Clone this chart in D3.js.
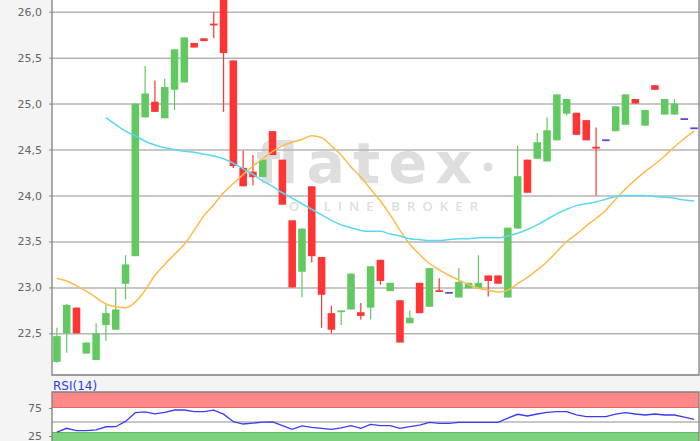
<!DOCTYPE html>
<html lang="de">
<head>
<meta charset="utf-8">
<title>Kursverlauf mit RSI</title>
<style>
    body {
        margin: 0;
        background: #f4f4f4;
    }

    #chart {
        width: 700px;
        height: 441px;
        overflow: hidden;
    }

    .axis text {
        font-family: "DejaVu Sans", Verdana, sans-serif;
        font-size: 11px;
        fill: #666;
    }

    .axis line {
        stroke: #888;
    }

    .axis path {
        display: none;
    }

    .grid line {
        stroke: #b4b4b4;
        stroke-width: 1.5px;
    }

    .grid path {
        display: none;
    }
</style>
</head>
<body>
<div id="chart"></div>
<script src="https://cdn.jsdelivr.net/npm/d3@7/dist/d3.min.js"></script>
<script>
    // price data, one entry per trading day
    const openPx = [22.19, 22.50, 22.78, 22.28, 22.21, 22.59, 22.54, 23.04, 23.34, 24.85,
        25.02, 24.84, 25.15, 25.23, 25.66, 25.71, 25.87, 26.30, 25.47, 24.30,
        24.26, 24.20, 24.70, 24.39, 23.73, 23.17, 24.10, 23.33, 22.72, 22.74,
        22.76, 22.73, 22.78, 23.30, 22.96, 22.86, 22.61, 23.05, 22.79, 22.97,
        22.94, 22.89, 22.99, 22.99, 23.13, 23.13, 22.89, 23.64, 24.39, 24.40,
        24.37, 24.60, 24.89, 24.90, 24.82, 24.53, 24.60, 24.70, 24.77, 25.05,
        24.76, 25.20, 24.88, 24.88, 24.83, 24.73];
    const highPx = [22.56, 22.82, 22.78, 22.40, 22.61, 22.81, 22.99, 23.35, 25.00, 25.41,
        25.25, 25.27, 25.59, 25.72, 25.66, 25.71, 26.00, 26.35, 25.47, 24.49,
        24.44, 24.39, 24.70, 24.39, 23.73, 23.64, 24.10, 23.33, 22.80, 22.75,
        23.15, 22.83, 23.23, 23.30, 23.05, 22.86, 22.75, 23.05, 23.21, 23.10,
        22.94, 23.21, 23.05, 23.35, 23.13, 23.13, 23.65, 24.54, 24.39, 24.68,
        24.85, 25.10, 25.05, 24.90, 24.82, 24.74, 24.60, 24.97, 25.10, 25.05,
        24.93, 25.20, 25.05, 25.05, 24.83, 24.73];
    const lowPx = [22.18, 22.29, 22.50, 22.28, 22.21, 22.42, 22.54, 22.87, 23.34, 24.85,
        24.91, 24.84, 24.93, 25.23, 25.61, 25.68, 25.71, 24.91, 24.30, 24.10,
        24.11, 24.20, 24.44, 23.90, 23.00, 22.89, 23.27, 22.56, 22.50, 22.59,
        22.76, 22.65, 22.65, 23.03, 22.96, 22.40, 22.61, 22.72, 22.79, 22.95,
        22.94, 22.89, 22.99, 22.99, 22.90, 23.04, 22.89, 23.64, 24.03, 24.40,
        24.37, 24.60, 24.87, 24.66, 24.60, 24.00, 24.60, 24.70, 24.77, 25.00,
        24.76, 25.15, 24.88, 24.88, 24.83, 24.73];
    const closePx = [22.47, 22.81, 22.50, 22.40, 22.50, 22.72, 22.76, 23.25, 25.00, 25.11,
        24.91, 25.18, 25.59, 25.72, 25.61, 25.68, 25.86, 25.55, 24.32, 24.10,
        24.20, 24.39, 24.44, 23.90, 23.00, 23.64, 23.34, 22.92, 22.54, 22.75,
        23.15, 22.69, 23.23, 23.07, 23.05, 22.40, 22.67, 22.72, 23.21, 22.95,
        22.94, 23.06, 23.05, 23.05, 23.07, 23.04, 23.65, 24.21, 24.03, 24.58,
        24.71, 25.10, 25.05, 24.66, 24.60, 24.51, 24.60, 24.97, 25.10, 25.00,
        24.93, 25.15, 25.05, 25.00, 24.83, 24.73];

    // moving averages (orange = short, cyan = long)
    const maShort = [23.10, 23.07, 23.02, 22.96, 22.89, 22.82, 22.79, 22.78, 22.84, 22.97,
        23.13, 23.25, 23.36, 23.47, 23.62, 23.78, 23.90, 24.03, 24.13, 24.23,
        24.32, 24.40, 24.48, 24.54, 24.58, 24.61, 24.65, 24.63, 24.54, 24.44,
        24.31, 24.20, 24.07, 23.94, 23.79, 23.62, 23.47, 23.36, 23.26, 23.19,
        23.13, 23.08, 23.03, 22.99, 22.97, 22.95, 22.97, 23.04, 23.11, 23.19,
        23.28, 23.39, 23.50, 23.58, 23.67, 23.75, 23.84, 23.96, 24.07, 24.17,
        24.26, 24.34, 24.43, 24.53, 24.62, 24.70];
    const maLong = [null, null, null, null, null, 24.85, 24.77, 24.70, 24.65, 24.59,
        24.55, 24.52, 24.50, 24.48, 24.47, 24.45, 24.43, 24.40, 24.35, 24.29,
        24.23, 24.16, 24.10, 24.03, 23.97, 23.91, 23.85, 23.79, 23.73, 23.68,
        23.65, 23.62, 23.61, 23.61, 23.58, 23.56, 23.53, 23.52, 23.51, 23.51,
        23.52, 23.53, 23.53, 23.54, 23.54, 23.54, 23.56, 23.59, 23.63, 23.68,
        23.74, 23.80, 23.85, 23.89, 23.91, 23.93, 23.96, 23.99, 24.00, 24.00,
        24.00, 23.99, 23.98, 23.97, 23.95, 23.94];

    const rsi = [32.0, 38.8, 34.5, 34.5, 36.0, 41.5, 41.6, 51.0, 66.6, 68.0,
        64.5, 67.0, 71.4, 71.4, 68.4, 68.4, 71.2, 64.0, 50.5, 46.4,
        48.0, 49.8, 50.0, 43.5, 37.0, 42.9, 40.5, 38.8, 37.0, 39.6,
        43.5, 38.8, 45.9, 43.4, 43.4, 38.8, 41.6, 44.6, 49.4, 47.7,
        47.7, 49.5, 49.5, 49.5, 49.5, 49.5, 57.0, 63.8, 60.7, 64.3,
        67.3, 68.4, 68.4, 62.6, 59.5, 59.5, 59.5, 64.0, 66.6, 64.3,
        62.5, 64.3, 62.5, 62.5, 58.5, 54.8];

    const priceTicks = [22.5, 23.0, 23.5, 24.0, 24.5, 25.0, 25.5, 26.0];
    const rsiTicks = [25, 75];
    const rsiUpper = 75;
    const rsiLower = 32;

    const width = 700;
    const height = 441;
    const left = 52;
    const right = 699;
    const mainBottom = 375;
    const rsiTop = 392;

    const green = "#62c962";
    const red = "#ff3434";
    const flat = "#6444d4";

    const deFormat = d3.formatLocale({decimal: ",", thousands: ".", grouping: [3], currency: ["", " €"]}).format(".1f");

    const svg = d3.select("#chart").append("svg")
        .attr("width", width)
        .attr("height", height);

    const x = d3.scaleBand()
        .domain(d3.range(openPx.length))
        .range([left, right])
        .paddingInner(0.23)
        .paddingOuter(0.115);
    const bw = x.bandwidth();
    const cx = i => x(i) + bw / 2;

    const y = d3.scaleLinear()
        .domain([22.047, 26.127])
        .range([mainBottom, 0]);

    const yRsi = d3.scaleLinear()
        .domain([0, 100])
        .range([450, 394]);

    // panels
    svg.append("rect")
        .attr("x", left).attr("y", 0)
        .attr("width", right - left).attr("height", mainBottom)
        .attr("fill", "#fff");
    svg.append("rect")
        .attr("x", left).attr("y", rsiTop)
        .attr("width", right - left).attr("height", height - rsiTop)
        .attr("fill", "#fff");

    // watermark
    const wm = svg.append("g").attr("fill", "#dedede");
    wm.append("text")
        .attr("x", 256).attr("y", 183)
        .attr("textLength", 216)
        .attr("lengthAdjust", "spacing")
        .style("font-family", "'DejaVu Sans', sans-serif")
        .style("font-weight", "bold")
        .style("font-size", "57px")
        .text("flatex");
    wm.append("circle").attr("cx", 488).attr("cy", 167).attr("r", 4.5);
    wm.append("text")
        .attr("x", 289).attr("y", 211)
        .attr("textLength", 189)
        .attr("lengthAdjust", "spacing")
        .style("font-family", "'Open Sans', sans-serif")
        .style("font-weight", 600)
        .style("font-size", "13px")
        .text("ONLINE BROKER");

    // grid + axis of the price panel
    svg.append("g")
        .attr("class", "grid")
        .attr("transform", "translate(" + left + ",0)")
        .call(d3.axisLeft(y).tickValues(priceTicks).tickSize(-(right - left)).tickFormat(""));
    svg.append("g")
        .attr("class", "axis")
        .attr("transform", "translate(" + left + ",0)")
        .call(d3.axisLeft(y).tickValues(priceTicks).tickSize(3).tickPadding(7).tickFormat(deFormat));

    // candles
    const candles = d3.range(openPx.length).map(i => ({
        i: i, o: openPx[i], h: highPx[i], l: lowPx[i], c: closePx[i]
    }));
    const colour = d => d.c > d.o ? green : (d.c < d.o ? red : flat);

    const cg = svg.append("g");
    cg.selectAll("line")
        .data(candles.filter(d => d.h > d.l))
        .enter().append("line")
        .attr("x1", d => cx(d.i)).attr("x2", d => cx(d.i))
        .attr("y1", d => y(d.h)).attr("y2", d => y(d.l))
        .attr("stroke", colour)
        .attr("stroke-width", 1.2);
    cg.selectAll("rect")
        .data(candles)
        .enter().append("rect")
        .attr("x", d => x(d.i))
        .attr("width", bw)
        .attr("y", d => d.o === d.c ? y(d.o) - 1 : y(Math.max(d.o, d.c)))
        .attr("height", d => Math.max(1.8, Math.abs(y(d.o) - y(d.c))))
        .attr("fill", colour);

    // moving averages
    const maLine = d3.line()
        .defined(d => d != null)
        .x((d, i) => cx(i))
        .y(d => y(d))
        .curve(d3.curveMonotoneX);
    svg.append("path")
        .datum(maShort)
        .attr("d", maLine)
        .attr("fill", "none")
        .attr("stroke", "#ffbb4a")
        .attr("stroke-width", 1.5);
    svg.append("path")
        .datum(maLong)
        .attr("d", maLine)
        .attr("fill", "none")
        .attr("stroke", "#5ad8f2")
        .attr("stroke-width", 1.5);

    // borders of the price panel
    svg.append("path")
        .attr("d", "M" + left + ",0V" + mainBottom + "H" + right + "V0")
        .attr("fill", "none")
        .attr("stroke", "#808080")
        .attr("stroke-width", 1.3);

    // RSI panel
    svg.append("rect")
        .attr("x", left).attr("y", rsiTop)
        .attr("width", right - left).attr("height", yRsi(rsiUpper) - rsiTop)
        .attr("fill", "#ff8787");
    svg.append("rect")
        .attr("x", left).attr("y", yRsi(rsiLower))
        .attr("width", right - left).attr("height", height - yRsi(rsiLower))
        .attr("fill", "#7ed07e");
    svg.append("line")
        .attr("x1", left).attr("x2", right)
        .attr("y1", yRsi(rsiUpper) - 0.5).attr("y2", yRsi(rsiUpper) - 0.5)
        .attr("stroke", "#e46a6a");
    svg.append("line")
        .attr("x1", left).attr("x2", right)
        .attr("y1", yRsi(rsiLower) + 0.5).attr("y2", yRsi(rsiLower) + 0.5)
        .attr("stroke", "#5cb85c");
    svg.append("line")
        .attr("x1", left).attr("x2", right)
        .attr("y1", yRsi(50)).attr("y2", yRsi(50))
        .attr("stroke", "#b4b4b4")
        .attr("stroke-width", 1.3);

    svg.append("g")
        .attr("class", "axis")
        .attr("transform", "translate(" + left + ",0)")
        .call(d3.axisLeft(yRsi).tickValues(rsiTicks).tickSize(3).tickPadding(7));

    svg.append("path")
        .datum(rsi)
        .attr("d", d3.line().x((d, i) => cx(i)).y(d => yRsi(d)))
        .attr("fill", "none")
        .attr("stroke", "#3a3df5")
        .attr("stroke-width", 1.3);

    svg.append("path")
        .attr("d", "M" + left + "," + height + "V" + rsiTop + "H" + right + "V" + height)
        .attr("fill", "none")
        .attr("stroke", "#808080")
        .attr("stroke-width", 1.3);

    svg.append("text")
        .attr("x", 53).attr("y", 390)
        .attr("fill", "#2a3cf0")
        .style("font-family", "'DejaVu Sans', Verdana, sans-serif")
        .style("font-size", "12px")
        .text("RSI(14)");
</script>
</body>
</html>
